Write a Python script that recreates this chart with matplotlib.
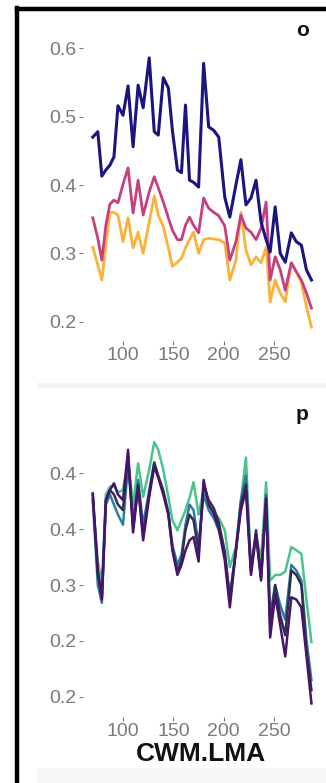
import matplotlib
matplotlib.use("Agg")
import matplotlib.pyplot as plt
from matplotlib.lines import Line2D
from matplotlib.patches import Rectangle

# ---------------- data ----------------
cwm_lma = [70, 75, 79, 83, 87, 91, 95, 100, 105, 110, 115, 120, 126, 131, 135, 140,
           145, 149, 154, 158, 162, 166, 170, 175, 180, 185, 190, 195, 201, 206, 212,
           217, 222, 227, 232, 237, 242, 246, 251, 256, 261, 267, 272, 277, 282, 287]

o_navy = [0.470, 0.478, 0.413, 0.422, 0.429, 0.441, 0.516, 0.502, 0.545, 0.456, 0.546,
          0.513, 0.586, 0.478, 0.473, 0.557, 0.542, 0.480, 0.422, 0.418, 0.517, 0.407,
          0.404, 0.397, 0.578, 0.485, 0.480, 0.470, 0.382, 0.353, 0.400, 0.437, 0.371,
          0.381, 0.407, 0.346, 0.320, 0.302, 0.368, 0.300, 0.287, 0.330, 0.317, 0.312,
          0.276, 0.261]
o_magenta = [0.352, 0.322, 0.290, 0.341, 0.372, 0.378, 0.374, 0.401, 0.425, 0.359, 0.407,
             0.356, 0.390, 0.412, 0.396, 0.375, 0.352, 0.334, 0.320, 0.320, 0.341, 0.353,
             0.341, 0.330, 0.381, 0.366, 0.360, 0.355, 0.340, 0.290, 0.317, 0.356, 0.337,
             0.331, 0.320, 0.337, 0.375, 0.261, 0.295, 0.276, 0.246, 0.286, 0.273, 0.261,
             0.242, 0.220]
o_yellow = [0.309, 0.283, 0.261, 0.312, 0.360, 0.360, 0.356, 0.317, 0.352, 0.308, 0.331,
            0.300, 0.346, 0.384, 0.356, 0.339, 0.308, 0.281, 0.287, 0.293, 0.308, 0.320,
            0.331, 0.300, 0.320, 0.322, 0.321, 0.320, 0.315, 0.261, 0.290, 0.360, 0.305,
            0.283, 0.295, 0.286, 0.309, 0.229, 0.261, 0.242, 0.229, 0.287, 0.273, 0.257,
            0.222, 0.192]

p_green = [0.376, 0.322, 0.300, 0.381, 0.388, 0.389, 0.383, 0.385, 0.412, 0.372, 0.409,
           0.379, 0.403, 0.428, 0.421, 0.403, 0.379, 0.358, 0.349, 0.358, 0.367, 0.378,
           0.392, 0.363, 0.385, 0.372, 0.365, 0.360, 0.349, 0.316, 0.334, 0.376, 0.414,
           0.316, 0.346, 0.322, 0.392, 0.304, 0.309, 0.309, 0.312, 0.334, 0.331, 0.328,
           0.287, 0.249]
p_teal = [0.376, 0.300, 0.284, 0.372, 0.381, 0.372, 0.363, 0.354, 0.407, 0.358, 0.394,
          0.354, 0.385, 0.410, 0.398, 0.385, 0.365, 0.336, 0.318, 0.327, 0.354, 0.372,
          0.367, 0.336, 0.381, 0.367, 0.360, 0.349, 0.327, 0.291, 0.331, 0.376, 0.398,
          0.313, 0.345, 0.309, 0.381, 0.273, 0.300, 0.282, 0.269, 0.318, 0.313, 0.304,
          0.251, 0.215]
p_slate = [0.381, 0.309, 0.289, 0.376, 0.385, 0.381, 0.372, 0.367, 0.416, 0.351, 0.390,
           0.345, 0.382, 0.409, 0.397, 0.383, 0.364, 0.333, 0.312, 0.322, 0.349, 0.363,
           0.358, 0.330, 0.390, 0.376, 0.369, 0.356, 0.330, 0.287, 0.330, 0.372, 0.390,
           0.312, 0.349, 0.306, 0.378, 0.264, 0.300, 0.273, 0.255, 0.313, 0.309, 0.300,
           0.242, 0.206]
p_purple = [0.382, 0.313, 0.287, 0.376, 0.385, 0.391, 0.381, 0.376, 0.421, 0.347, 0.388,
            0.340, 0.379, 0.406, 0.396, 0.381, 0.363, 0.331, 0.309, 0.318, 0.331, 0.340,
            0.343, 0.321, 0.394, 0.372, 0.364, 0.351, 0.322, 0.280, 0.331, 0.367, 0.385,
            0.309, 0.345, 0.304, 0.376, 0.253, 0.291, 0.264, 0.236, 0.289, 0.287, 0.280,
            0.237, 0.194]

x_ticks = [100, 150, 200, 250]
o_yticks = [0.2, 0.3, 0.4, 0.5, 0.6]
o_yticklabels = ["0.2", "0.3", "0.4", "0.5", "0.6"]
p_yticks = [0.20, 0.25, 0.30, 0.35, 0.40]
p_yticklabels = ["0.2", "0.2", "0.3", "0.4", "0.4"]
panel_tags = ["o", "p"]
x_title = "CWM.LMA"

# ---------------- figure ----------------
W, H = 326, 783
fig = plt.figure(figsize=(W / 100, H / 100), dpi=100)
fig.patch.set_facecolor("white")
plt.rcParams['font.family'] = ['Liberation Sans', 'DejaVu Sans']

def px_axes(left, top, right, bottom):
    return fig.add_axes([left / W, 1 - bottom / H, (right - left) / W, (bottom - top) / H])

tick_col = "#7a7a7a"

def style(ax, yticks, ylabels):
    for s in ax.spines.values():
        s.set_visible(False)
    ax.set_xticks(x_ticks)
    ax.set_xticklabels([str(t) for t in x_ticks])
    ax.set_yticks(yticks)
    ax.set_yticklabels(ylabels)
    ax.tick_params(axis="both", colors=tick_col, labelcolor=tick_col, labelsize=14,
                   length=3, width=0.8, pad=1.5)
    ax.set_facecolor("white")

# top panel
ax1 = px_axes(83, 22, 318, 341)
ax1.plot(cwm_lma, o_yellow, color="#fbb13a", lw=2.0)
ax1.plot(cwm_lma, o_magenta, color="#c6407f", lw=2.0)
ax1.plot(cwm_lma, o_navy, color="#1c1580", lw=2.2)
ax1.set_xlim(60.3, 293.5)
ax1.set_ylim(0.6 - (341 - 48.3) / 683.5, 0.6 + (48.3 - 22) / 683.5)
style(ax1, o_yticks, o_yticklabels)

# bottom panel
ax2 = px_axes(83, 395, 318, 717)
ax2.plot(cwm_lma, p_green, color="#4cc38a", lw=1.8)
ax2.plot(cwm_lma, p_teal, color="#2e7ca0", lw=1.8)
ax2.plot(cwm_lma, p_slate, color="#2f2f4f", lw=1.8)
ax2.plot(cwm_lma, p_purple, color="#46156a", lw=1.8)
ax2.set_xlim(60.3, 293.5)
ax2.set_ylim(0.40 - (717 - 473.3) / 1117, 0.40 + (473.3 - 395) / 1117)
style(ax2, p_yticks, p_yticklabels)
ax2.set_xlabel(x_title, fontsize=19, fontweight="bold", color="#111111", labelpad=1)

# panel tags
fig.text(303 / W, 1 - 31 / H, panel_tags[0], fontsize=15, fontweight="bold",
         ha="center", va="center", color="#111111")
fig.text(302 / W, 1 - 414 / H, panel_tags[1], fontsize=15, fontweight="bold",
         ha="center", va="center", color="#111111")

# faint separators
fig.add_artist(Rectangle((37 / W, 1 - 388 / H), 1, 5 / H, transform=fig.transFigure,
                         facecolor="#f3f3f3", edgecolor="none", zorder=0))
fig.add_artist(Rectangle((37 / W, 0), 1, 15 / H, transform=fig.transFigure,
                         facecolor="#f7f7f7", edgecolor="none", zorder=0))

# black frame
fig.add_artist(Line2D([17 / W, 17 / W], [0, 1 - 7.5 / H], transform=fig.transFigure,
                      color="black", lw=3.2, solid_capstyle="projecting"))
fig.add_artist(Line2D([17 / W, 1], [1 - 9 / H, 1 - 9 / H], transform=fig.transFigure,
                      color="black", lw=3.2, solid_capstyle="projecting"))

fig.savefig("out.png", dpi=100, facecolor="white")
